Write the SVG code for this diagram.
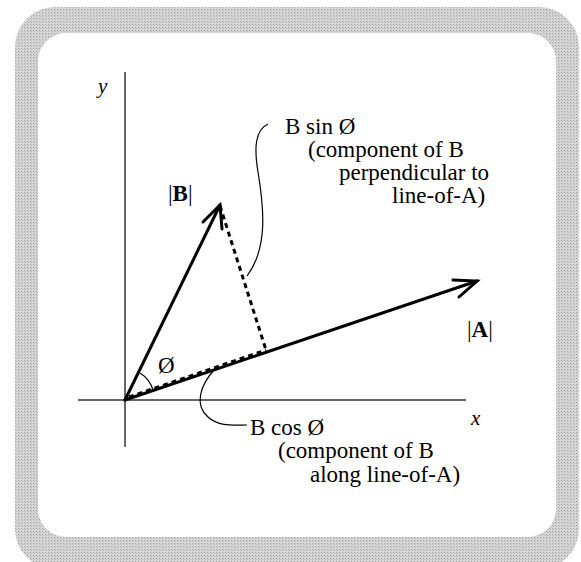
<svg xmlns="http://www.w3.org/2000/svg" width="581" height="562" viewBox="0 0 581 562">
<defs>
  <pattern id="dots" width="3" height="3" patternUnits="userSpaceOnUse">
    <rect width="3" height="3" fill="#d6d6d6"/>
    <rect x="0" y="0" width="1" height="1" fill="#a0a0a0"/>
    <rect x="1" y="1" width="1" height="1" fill="#b4b4b4"/>
  </pattern>
</defs>
<style>
  .t { font-family: "Liberation Serif", "Times New Roman", serif; font-size: 23px; fill: #000; }
  .it { font-family: "Liberation Serif", "Times New Roman", serif; font-style: italic; font-size: 21px; fill: #000; }
  .axis { stroke: #333; stroke-width: 1.5; fill: none; }
  .vec { stroke: #000; stroke-width: 3; fill: none; stroke-linecap: round; }
  .dash { stroke: #000; stroke-width: 3; fill: none; stroke-dasharray: 5 4; }
  .thin { stroke: #000; stroke-width: 1.2; fill: none; }
</style>
<g id="frame">
  <rect x="15" y="7" width="564" height="562" rx="40" ry="40" fill="url(#dots)"/>
  <rect x="38" y="33" width="518" height="504" rx="28" ry="28" fill="#fff"/>
</g>
<g id="axes">
  <line class="axis" x1="125" y1="72" x2="125" y2="447"/>
  <line class="axis" x1="78" y1="400" x2="466" y2="400"/>
  <text class="it" x="98" y="93">y</text>
  <text class="it" x="471" y="425">x</text>
</g>
<g id="connectors">
  <path class="dash" d="M220,206 L266,350"/>
  <path class="dash" d="M129,397 L266,350"/>
  <path class="thin" d="M140,373 A30,30 0 0 1 153,390"/>
  <path class="thin" d="M268,124 C255,130 254,148 258,172 C264,208 268,248 247,276"/>
  <path class="thin" d="M215,369 C200,385 194,405 208,417 C219,427 234,425 247,425"/>
</g>
<g id="vectorA">
  <line class="vec" x1="125" y1="400" x2="477" y2="281"/>
  <polyline class="vec" points="453,280 477,281 459,297"/>
  <text class="t" x="467" y="337">|<tspan font-weight="bold">A</tspan>|</text>
</g>
<g id="vectorB">
  <line class="vec" x1="125" y1="400" x2="220" y2="205"/>
  <polyline class="vec" points="203,222 220,205 222,229"/>
  <text class="t" x="168" y="201">|<tspan font-weight="bold">B</tspan>|</text>
</g>
<g id="angle">
  <text class="t" x="158" y="373">Ø</text>
</g>
<g id="sinLabel">
  <text class="t" x="285" y="134">B sin Ø</text>
  <text class="t" x="308" y="157">(component of B</text>
  <text class="t" x="339" y="180">perpendicular to</text>
  <text class="t" x="392" y="203">line-of-A)</text>
</g>
<g id="cosLabel">
  <text class="t" x="250" y="435">B cos Ø</text>
  <text class="t" x="278" y="458">(component of B</text>
  <text class="t" x="310" y="482">along line-of-A)</text>
</g>
</svg>
